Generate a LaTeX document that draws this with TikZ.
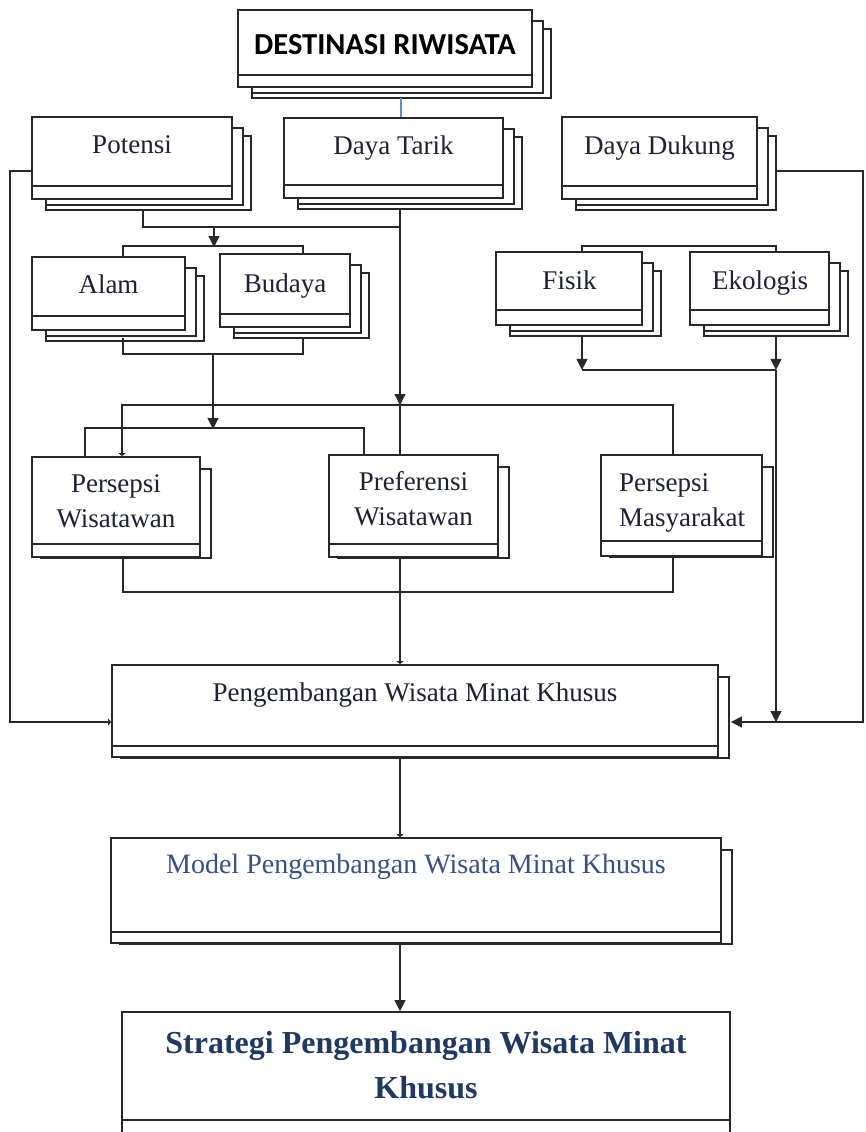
\documentclass[tikz,border=0pt]{standalone}
\usepackage{fontspec}
\setmainfont{Liberation Serif}
\newfontfamily\calibfont{Carlito}
\usetikzlibrary{arrows.meta,backgrounds,calc}
\definecolor{txt}{RGB}{30,32,55}
\definecolor{modeltxt}{RGB}{55,80,135}
\definecolor{strattxt}{RGB}{31,56,100}
\definecolor{ln}{RGB}{40,40,40}
\definecolor{blueln}{RGB}{91,142,214}
\tikzset{
 box/.style={draw=ln, line width=1.8pt, fill=white, rectangle, inner sep=0pt,
   path picture={\draw[ln, line width=1.2pt] ([yshift=#1]path picture bounding box.south west) -- ([yshift=#1]path picture bounding box.south east);}},
 box/.default=13pt,
 copybox/.style={draw=ln, line width=1.6pt, fill=white},
 lbl/.style={anchor=base, inner sep=0pt, text=txt, font=\fontsize{27}{35}\selectfont, align=center},
 conn/.style={draw=ln, line width=1.3pt},
 arr/.style={conn, -{Triangle[length=11pt,width=11pt]}},
 tip/.style={conn, -{Triangle[length=3pt,width=7pt]}},
 blueconn/.style={draw=blueln, line width=1.4pt},
}
\begin{document}
\begin{tikzpicture}[x=1pt,y=-1pt]
\useasboundingbox (0,0) rectangle (866,1132);
\clip (0,0) rectangle (866,1132);
% main boxes
\node[box=12pt, minimum width=294, minimum height=77] (dest) at (385,48.5) {};
\node[box, minimum width=200, minimum height=82] (potensi) at (132,158) {};
\node[box, minimum width=219, minimum height=80] (tarik) at (393.5,158) {};
\node[box, minimum width=195, minimum height=82] (dukung) at (659.5,158) {};
\node[box=14pt, minimum width=153, minimum height=73] (alam) at (108.5,293.5) {};
\node[box, minimum width=130, minimum height=73] (budaya) at (285,290.5) {};
\node[box=15pt, minimum width=146, minimum height=73] (fisik) at (569,288.5) {};
\node[box=15pt, minimum width=139, minimum height=73] (ekologis) at (759.5,288.5) {};
\node[box, minimum width=168, minimum height=100] (persw) at (116,507) {};
\node[box, minimum width=169, minimum height=102] (pref) at (413.5,506) {};
\node[box=15pt, minimum width=161, minimum height=101] (persm) at (681.5,505.5) {};
\node[box=11pt, minimum width=606, minimum height=92] (peng) at (415,711) {};
\node[box=11pt, minimum width=610, minimum height=105] (model) at (416,890.5) {};
\node[box=25pt, minimum width=608, minimum height=133] (strat) at (426,1078.5) {};
% stacked copies behind
\begin{scope}[on background layer]
 \fill[white] (0,0) rectangle (866,1132);
 \foreach \n in {dest,potensi,tarik,dukung,alam,budaya,fisik,ekologis} {
   \draw[copybox] ($(\n.north west)+(15,20)$) rectangle ($(\n.south east)+(18,10)$);
   \draw[copybox] ($(\n.north west)+(15,12)$) rectangle ($(\n.south east)+(10,5)$);
 }
 \foreach \n in {persw,pref,persm,peng,model} {
   \draw[copybox] ($(\n.north west)+(10,13)$) rectangle ($(\n.south east)+(10,0)$);
 }
\end{scope}
% labels
\node[lbl, text=black, font=\calibfont\bfseries\fontsize{30.5}{32}\selectfont] (dest-t) at (385,55) {DESTINASI RIWISATA};
\node[lbl] (potensi-t) at (132,153) {Potensi};
\node[lbl] (tarik-t) at (393.5,154) {Daya Tarik};
\node[lbl] (dukung-t) at (659.5,154) {Daya Dukung};
\node[lbl] (alam-t) at (108.5,293) {Alam};
\node[lbl] (budaya-t) at (285,292) {Budaya};
\node[lbl] (fisik-t) at (569.5,289) {Fisik};
\node[lbl] (ekologis-t) at (760,289) {Ekologis};
\node[lbl] (persw-t) at (116,527) {Persepsi\\Wisatawan};
\node[lbl] (pref-t) at (413.5,525) {Preferensi\\Wisatawan};
\node[lbl, anchor=base west, align=left] (persm-t) at (619,526) {Persepsi\\Masyarakat};
\node[lbl] (peng-t) at (415,701) {Pengembangan Wisata Minat Khusus};
\node[lbl, text=modeltxt, font=\fontsize{28}{35}\selectfont] (model-t) at (416,873) {Model Pengembangan Wisata Minat Khusus};
\node[lbl, text=strattxt, font=\bfseries\fontsize{32}{45}\selectfont] (strat-t) at (426,1098) {Strategi Pengembangan Wisata Minat\\Khusus};
% helper coordinates
\coordinate (sp) at (400,0);
\coordinate (lrow) at (0,722);
% connectors
\draw[blueconn] ($(dest.south -| sp)+(1,10)$) -- ($(tarik.north -| sp)+(1,0)$);
\draw[tip] ($(potensi.west)+(0,13)$) -| (10,722) -- (peng.west |- lrow);
\draw[arr] ($(dukung.east)+(19,13)$) -| (863,722) -- ($(peng.east |- lrow)+(12,0)$);
\draw[conn] ($(potensi.south)+(11,11)$) |- (400,227);
\draw[arr] (214,227) -- (214,247);
\draw[conn] ($(alam.north)+(14.5,0)$) |- ($(budaya.north)+(18,-7)$) -- ($(budaya.north)+(18,0)$);
\draw[conn] ($(alam.south)+(14.5,7)$) |- ($(budaya.south)+(18,26)$) -- ($(budaya.south)+(18,10)$);
\draw[arr] ($(budaya.south)+(-72,26)$) -- (213,429);
\draw[arr] ($(tarik.south -| sp)+(0,11)$) -- (400,405);
\draw[conn] (400,405) -- (pref.north -| sp);
\draw[tip] ($(persm.north)+(-8.5,0)$) |- (122,405) -- ($(persw.north)+(6,0)$);
\draw[conn] ($(persw.north)+(-31,0)$) |- ($(pref.north)+(-49.5,-26)$) -- ($(pref.north)+(-49.5,0)$);
\draw[conn] ($(persw.south)+(7,0)$) |- ($(persm.south)+(-8.5,35)$) -- ($(persm.south)+(-8.5,0)$);
\draw[tip] (pref.south -| sp) -- (peng.north -| sp);
\draw[conn] ($(fisik.north)+(13,0)$) |- ($(ekologis.north)+(16.5,-5)$) -- ($(ekologis.north)+(16.5,0)$);
\coordinate (fk) at ($(fisik.south)+(13,44)$);
\coordinate (ek) at ($(ekologis.south)+(16.5,44)$);
\draw[arr] ($(fisik.south)+(13,9)$) -- (fk);
\draw[arr] ($(ekologis.south)+(16.5,9)$) -- (ek);
\draw[conn] (fk) -- (ek);
\draw[arr] (ek) -- (ek |- lrow);
\draw[tip] (peng.south -| sp) -- (model.north -| sp);
\draw[arr] (model.south -| sp) -- (strat.north -| sp);
\end{tikzpicture}
\end{document}
